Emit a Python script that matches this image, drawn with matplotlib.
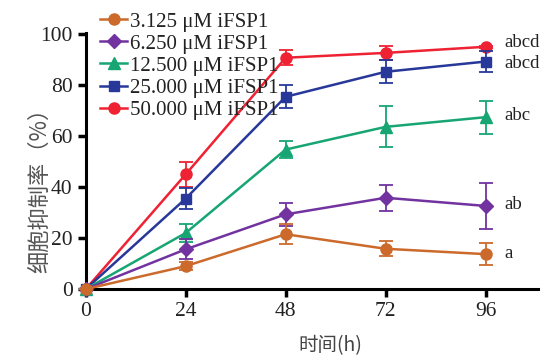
import numpy as np
import matplotlib.pyplot as plt

plt.rcParams['font.family'] = ['Liberation Serif', 'Noto Sans CJK SC']

# time points (h)
hours = [0, 24, 48, 72, 96]

labels = ['3.125 μM iFSP1', '6.250 μM iFSP1', '12.500 μM iFSP1',
          '25.000 μM iFSP1', '50.000 μM iFSP1']
colors = ['#CC6A2C', '#7233A0', '#17A673', '#27389A', '#EE2233']
markers = ['o', 'D', '^', 's', 'o']
msizes = [8, 7, 9, 7, 8]

# inhibition rate (%)
mean_3125 = [0, 9.0, 21.5, 15.8, 13.7]
mean_6250 = [0, 15.6, 29.3, 35.8, 32.6]
mean_12500 = [0, 22.0, 54.7, 63.6, 67.4]
mean_25000 = [0, 35.5, 75.4, 85.2, 89.2]
mean_50000 = [0, 45.0, 90.7, 92.6, 95.0]

sd_3125 = [0, 1.5, 4.0, 3.0, 4.2]
sd_6250 = [0, 4.0, 4.5, 5.0, 9.0]
sd_12500 = [0, 3.5, 3.5, 8.0, 6.5]
sd_25000 = [0, 4.0, 4.5, 4.5, 4.0]
sd_50000 = [0, 5.0, 3.0, 2.8, 0.5]

means = [mean_3125, mean_6250, mean_12500, mean_25000, mean_50000]
sds = [sd_3125, sd_6250, sd_12500, sd_25000, sd_50000]

sig_labels = ['a', 'ab', 'abc', 'abcd', 'abcd']
sig_y = [14, 33, 68, 88.3, 96.8]

fig = plt.figure(figsize=(5.43, 3.56), dpi=100)
ax = fig.add_axes([0.158, 0.188, 0.832, 0.72])

# draw from highest concentration down so low ones are on top at t=0
for i in range(4, -1, -1):
    ax.errorbar(hours, means[i], yerr=sds[i], color=colors[i], marker=markers[i],
                markersize=msizes[i], linewidth=1.8, capsize=5, capthick=1.3,
                elinewidth=1.3, label=labels[i], clip_on=False, zorder=3 + (4 - i))

for lab, y in zip(sig_labels, sig_y):
    ax.text(100.5, y, lab, fontsize=13.5, va='center', ha='left', color='#222222')

ax.set_xlim(0, 108.5)
ax.set_ylim(0, 100.5)
ax.set_xticks(hours)
ax.set_yticks([0, 20, 40, 60, 80, 100])
for s in ['top', 'right']:
    ax.spines[s].set_visible(False)
for s in ['left', 'bottom']:
    ax.spines[s].set_linewidth(2.2)
ax.tick_params(width=2.5, length=6, labelsize=15.5, direction='out', labelcolor='#222222')

fig.text(330 / 543, 1 - 346 / 356, '时间(h)', fontsize=14, ha='center', va='center',
         family=['Noto Sans CJK SC'], color='#444444')
fig.text(40 / 543, 1 - 185 / 356, '细胞抑制率（%）', fontsize=16, ha='center', va='center',
         rotation=90, family=['Noto Sans CJK SC'], color='#555555', fontweight='light')

handles, leg_labels = ax.get_legend_handles_labels()
handles = [h[0] for h in handles[::-1]]
leg = fig.legend(handles, leg_labels[::-1], loc='upper left', bbox_to_anchor=(100 / 543, 1 - 12 / 356),
                 frameon=False, fontsize=15, handlelength=1.3, handletextpad=0.15,
                 labelspacing=0.12, borderpad=0, borderaxespad=0)
for t in leg.get_texts():
    t.set_color('#222222')

fig.savefig('out.png', dpi=100)
